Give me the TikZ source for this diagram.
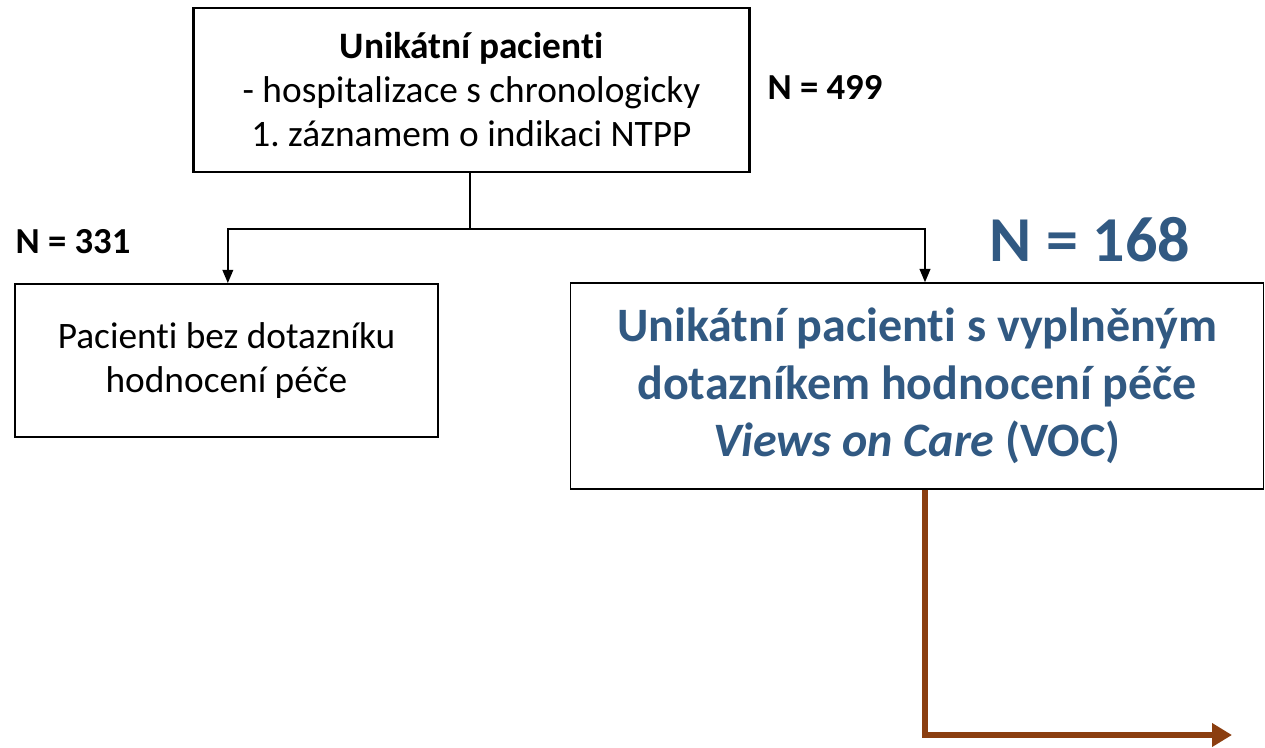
\documentclass[tikz,border=0pt]{standalone}
\usepackage{fontspec}
\setmainfont{Carlito}[Ligatures=NoCommon]
\usetikzlibrary{arrows.meta}
\frenchspacing

\definecolor{vocblue}{RGB}{49,89,130}
\definecolor{flowbrown}{RGB}{139,62,16}

\begin{document}
\begin{tikzpicture}
  [x=0.75pt,y=-0.75pt,
   box/.style={draw,rectangle,align=center,inner sep=0pt},
   count/.style={font=\fontsize{27.5}{32}\selectfont\bfseries},
   arr/.style={-{Triangle[length=10pt,width=8pt]},line width=1.4pt}]
  \useasboundingbox (0,0) rectangle (1265,747);

  \node[box,line width=2.2pt,minimum width=417pt,minimum height=123pt,
        font=\fontsize{28}{33}\selectfont] (all) at (471.5,90)
        {\textbf{Unikátní pacienti}\\- hospitalizace s chronologicky\\1. záznamem o indikaci NTPP};
  \node[box,line width=1.1pt,minimum width=317pt,minimum height=115pt,
        font=\fontsize{28}{33}\selectfont] (nodoc) at (226.5,360.5)
        {Pacienti bez dotazníku\\hodnocení péče};
  \node[box,line width=1.1pt,minimum width=520pt,minimum height=154.5pt,
        text=vocblue,font=\fontsize{36}{43}\selectfont\bfseries] (voc) at (917,386)
        {Unikátní pacienti s vyplněným\\dotazníkem hodnocení péče\\\textit{Views on Care} (VOC)};

  \node[count] (n499) at (825,87) {N = 499};
  \node[count] (n331) at (73,242) {N = 331};
  \node[text=vocblue,font=\fontsize{48}{56}\selectfont\bfseries] (n168) at (1090,240) {N = 168};

  \coordinate (split) at (470,229);
  \coordinate (out) at (1232,735);

  \draw[line width=1.4pt] (all.south -| split) -- (split);
  \draw[arr] (split) -| ([xshift=1pt]nodoc.north);
  \draw[arr] (split) -| ([xshift=6pt]voc.north);

  \draw[flowbrown,line width=5pt,-{Triangle[length=15pt,width=17pt]}]
    ([xshift=6pt]voc.south) |- (out);

\end{tikzpicture}
\end{document}
